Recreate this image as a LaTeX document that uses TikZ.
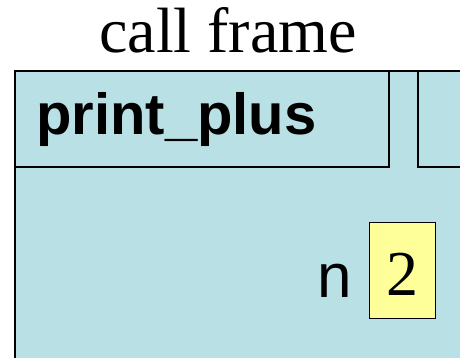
\documentclass[tikz,border=0pt]{standalone}
\usepackage{fontspec}
\setmainfont{Liberation Serif}
\newfontfamily\arialf{Liberation Sans}
\definecolor{frameteal}{RGB}{185,224,228}
\definecolor{valyellow}{RGB}{255,255,153}
\begin{document}
\begin{tikzpicture}[x=1pt,y=-1pt,
  framebox/.style={draw=black,line width=1.5pt,fill=frameteal},
  valbox/.style={draw=black,line width=1.2pt,fill=valyellow,minimum width=66pt,minimum height=96pt,inner sep=0pt,anchor=north west},
  titletext/.style={font=\fontsize{64}{64}\selectfont,inner sep=0pt},
  nametext/.style={font=\arialf\bfseries\fontsize{58}{58}\selectfont,inner sep=0pt},
  vartext/.style={font=\arialf\fontsize{62}{62}\selectfont,inner sep=0pt}]
\useasboundingbox (0,0) rectangle (460,358);
\clip (0,0) rectangle (460,358);
\node[titletext,anchor=base] (title) at (228,53) {call frame};
\draw[framebox] (15,71) rectangle (475,375);
\draw[framebox] (15,71) rectangle (389,167);
\draw[framebox] (418,71) rectangle (475,167);
\node[nametext,anchor=base west] (fname) at (36,135) {print\_plus};
\node[valbox] (val) at (369,222) {};
\node[titletext,anchor=base] (two) at (val.center |- 0,295) {2};
\node[vartext,anchor=base east] (n) at (352,297) {n};
\end{tikzpicture}
\end{document}
